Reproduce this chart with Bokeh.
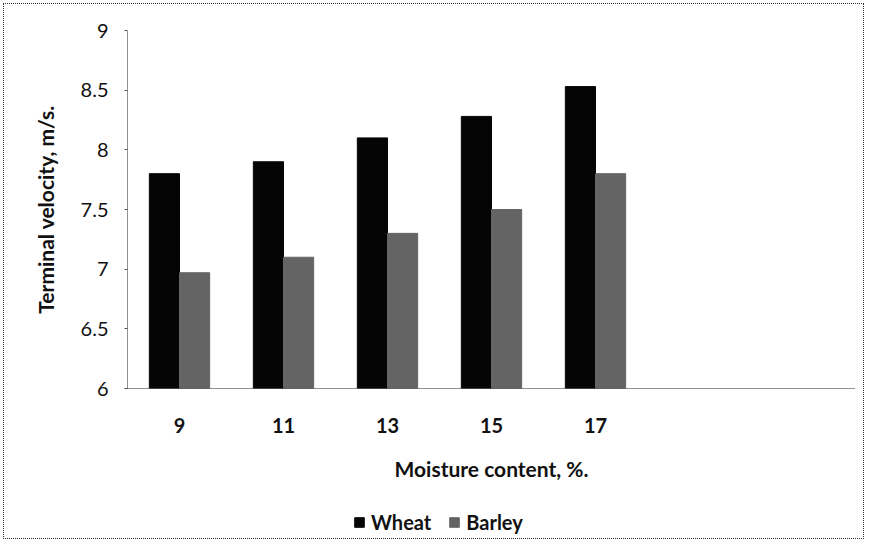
from bokeh.plotting import figure
from bokeh.models import Range1d, FixedTicker, Legend, LegendItem
from bokeh.layouts import column
from bokeh.embed import file_html
from bokeh.resources import INLINE

moisture = [9, 11, 13, 15, 17]
wheat = [7.80, 7.90, 8.10, 8.28, 8.53]
barley = [6.97, 7.10, 7.30, 7.50, 7.80]
y_ticks = [6, 6.5, 7, 7.5, 8, 8.5, 9]
series_names = ["Wheat", "Barley"]
series_colors = ["#050505", "#646464"]

FONT = "Lato"
W = 867
p = figure(width=W, height=487, output_backend="svg", toolbar_location=None,
           x_range=Range1d(8, 22), y_range=Range1d(6, 9),
           min_border_left=127, min_border_right=12, min_border_top=30, min_border_bottom=99)
p.outline_line_color = None
p.grid.visible = False
p.border_fill_color = None
p.background_fill_color = None

bw = 0.58
xw = [m - bw / 2 for m in moisture]
xb = [m + bw / 2 for m in moisture]
p.vbar(x=xw, top=wheat, bottom=6, width=bw, color=series_colors[0])
p.vbar(x=xb, top=barley, bottom=6, width=bw, color=series_colors[1])

p.xaxis.ticker = FixedTicker(ticks=moisture)
p.yaxis.ticker = FixedTicker(ticks=y_ticks)
p.yaxis.major_label_overrides = {6: "6", 7: "7", 8: "8", 9: "9"}

for ax in (p.xaxis[0], p.yaxis[0]):
    ax.axis_line_color = "#222222"
    ax.axis_line_dash = "1 1"
    ax.major_label_text_font = FONT
    ax.major_label_text_color = "#111111"
    ax.axis_label_text_font = FONT
    ax.axis_label_text_font_style = "bold"
    ax.axis_label_text_color = "#111111"
    ax.minor_tick_line_color = None

p.xaxis.major_tick_line_color = None
p.xaxis.major_label_text_font_size = "20px"
p.xaxis.major_label_text_font_style = "bold"
p.xaxis.major_label_standoff = 23
p.xaxis.axis_label = "Moisture content, %."
p.xaxis.axis_label_text_font_size = "21px"
p.xaxis.axis_label_standoff = 20

p.yaxis.major_tick_line_color = "#555555"
p.yaxis.major_tick_out = 3
p.yaxis.major_tick_in = 0
p.yaxis.major_label_text_font_size = "20px"
p.yaxis.major_label_standoff = 16
p.yaxis.axis_label = "Terminal velocity, m/s."
p.yaxis.axis_label_text_font_size = "21px"
p.yaxis.axis_label_standoff = 20

# legend strip below the chart (its bars lie outside its ranges, only the legend shows)
p2 = figure(width=W, height=55, output_backend="svg", toolbar_location=None,
            x_range=Range1d(100, 101), y_range=Range1d(100, 101),
            min_border=0, min_border_left=0, min_border_right=0, min_border_top=0, min_border_bottom=0)
p2.axis.visible = False
p2.grid.visible = False
p2.outline_line_color = None
p2.border_fill_color = None
p2.background_fill_color = None
items = []
for name, col, vals in zip(series_names, series_colors, [wheat, barley]):
    r = p2.vbar(x=moisture, top=vals, width=0.5, color=col)
    items.append(LegendItem(label=name, renderers=[r]))
legend = Legend(items=items, orientation="horizontal", location=(226, 8),
                padding=0, margin=0, spacing=17, glyph_width=12, glyph_height=12,
                label_standoff=6, border_line_color=None, background_fill_alpha=0,
                label_text_font=FONT, label_text_font_style="bold", label_text_font_size="20px",
                label_text_color="#111111")
p2.add_layout(legend, "center")

layout = column(p, p2, spacing=0)
layout.styles = {"outline": "1px dotted #333333", "outline-offset": "-4px"}

open("out.html", "w").write(file_html(layout, INLINE))
